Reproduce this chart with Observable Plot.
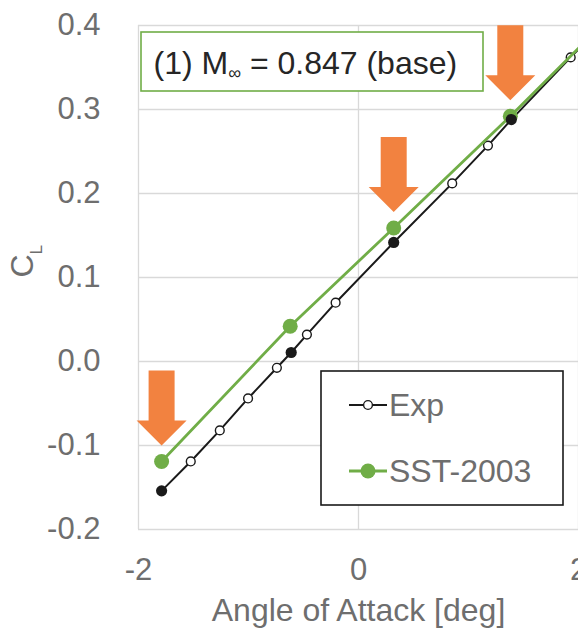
<!DOCTYPE html>
<html><head><meta charset="utf-8">
<script src="https://cdn.jsdelivr.net/npm/d3@7"></script>
<script src="https://cdn.jsdelivr.net/npm/@observablehq/plot@0.6"></script>
<style>
html,body{margin:0;padding:0;background:#fff;}
#chart{width:578px;height:630px;position:relative;overflow:hidden;}
#chart svg{display:block;}
</style></head><body><div id="chart"></div>
<script>
// ---- data ----
const expAlpha = [-1.79, -1.525, -1.261, -1.004, -0.742, -0.612, -0.469, -0.208, 0.32, 0.852, 1.177, 1.389, 1.929, 2.19];
const expCL    = [-0.154, -0.119, -0.082, -0.044, -0.0075, 0.0107, 0.032, 0.070, 0.1417, 0.212, 0.257, 0.288, 0.362, 0.398];
const expMatched = [true, false, false, false, false, true, false, false, true, false, false, true, false, false];
const sstAlpha = [-1.79, -0.621, 0.32, 1.38, 2.4];
const sstCL    = [-0.119, 0.042, 0.159, 0.292, 0.425];
const arrowAlpha = [-1.79, 0.32, 1.38];
const xTicks = [-2, 0, 2];
const yTicks = [-0.2, -0.1, 0, 0.1, 0.2, 0.3, 0.4];
const seriesNames = ["Exp", "SST-2003"];
const annotation = "(1) M∞ = 0.847 (base)";
const xLabel = "Angle of Attack [deg]";
const yLabel = "C";
const yLabelSub = "L";

// ---- styles ----
const FONT = "'Liberation Sans', Arial, sans-serif";
const GREEN = "#70AD47", ORANGE = "#F28240", BLACK = "#1a1a1a", GRAY = "#6e6e6e", GRID = "#d9d9d9";

const exp = expAlpha.map((a, i) => ({a, cl: expCL[i], matched: expMatched[i]}));
const sst = sstAlpha.map((a, i) => ({a, cl: sstCL[i]}));
const arrows = arrowAlpha.map(a => ({a, cl: sstCL[sstAlpha.indexOf(a)]}));

const arrowSymbol = {
  draw(ctx) {
    ctx.moveTo(-13, -91); ctx.lineTo(13, -91); ctx.lineTo(13, -41); ctx.lineTo(25, -41);
    ctx.lineTo(0, -16); ctx.lineTo(-25, -41); ctx.lineTo(-13, -41); ctx.closePath();
  }
};

const plot = Plot.plot({
  width: 578, height: 630,
  marginLeft: 138, marginRight: 0, marginTop: 25, marginBottom: 101,
  style: {fontFamily: FONT, background: "#fff", overflow: "hidden"},
  x: {domain: [-2, 2]},
  y: {domain: [-0.2, 0.4]},
  marks: [
    Plot.gridX(xTicks, {stroke: GRID, strokeOpacity: 1, strokeWidth: 1.3}),
    Plot.gridY(yTicks, {stroke: GRID, strokeOpacity: 1, strokeWidth: 1.3}),
    Plot.axisX(xTicks, {tickSize: 0, tickPadding: 28, fontSize: 31, fill: GRAY, tickFormat: d => String(d), label: null}),
    Plot.axisY(yTicks, {tickSize: 0, tickPadding: 38, fontSize: 31, fill: GRAY, tickFormat: d => d.toFixed(1), label: null}),
    Plot.text([xLabel], {frameAnchor: "bottom", text: d => d, dy: 81, fontSize: 32, fill: GRAY, lineAnchor: "middle"}),
    Plot.text([yLabel], {frameAnchor: "left", text: d => d, rotate: -90, dx: -116, fontSize: 32, fill: GRAY, lineAnchor: "middle"}),
    Plot.dot(arrows, {x: "a", y: "cl", symbol: arrowSymbol, fill: ORANGE, stroke: "none", r: 10}),
    Plot.line(exp, {x: "a", y: "cl", stroke: BLACK, strokeWidth: 2, clip: true}),
    Plot.dot(exp.filter(d => !d.matched), {x: "a", y: "cl", r: 4.4, fill: "white", stroke: BLACK, strokeWidth: 1.4, clip: true}),
    Plot.line(sst, {x: "a", y: "cl", stroke: GREEN, strokeWidth: 2.8, clip: true}),
    Plot.dot(sst, {x: "a", y: "cl", r: 7.5, fill: GREEN, clip: true}),
    Plot.dot(exp.filter(d => d.matched), {x: "a", y: "cl", r: 5.6, fill: BLACK, clip: true}),
    Plot.text([annotation], {frameAnchor: "top-left", text: d => d, textAnchor: "start", dx: 15, dy: 38, fontSize: 32, fill: "#262626", lineAnchor: "middle"})
  ]
});
document.getElementById("chart").appendChild(plot);

const svg = d3.select(plot);
const findText = s => svg.selectAll("text").filter(function () { return this.textContent === s; });

// y label subscript
findText(yLabel).append("tspan").attr("font-size", 17).attr("dy", 9).text(yLabelSub);

// annotation with subscript infinity and green box
const an = findText(annotation);
let anGroup = an.node();
while (anGroup.parentNode !== plot) anGroup = anGroup.parentNode;
const parts = annotation.split("∞");
an.text(parts[0]);
an.append("tspan").attr("font-size", 18).attr("dy", 5).text("∞");
an.append("tspan").attr("dy", -5).text(parts[1]);
svg.insert("rect", () => anGroup)
  .attr("x", 141).attr("y", 32).attr("width", 342).attr("height", 59)
  .attr("fill", "white").attr("stroke", GREEN).attr("stroke-width", 1.6);

// legend
const lg = svg.append("g").attr("aria-label", "legend")
  .style("font-family", FONT).attr("text-anchor", "start");
lg.append("rect").attr("x", 321).attr("y", 371).attr("width", 242).attr("height", 134)
  .attr("fill", "white").attr("stroke", BLACK).attr("stroke-width", 1.6);
const rows = [
  {name: seriesNames[0], y: 405, stroke: BLACK, sw: 2, r: 4.4, fill: "white", cs: BLACK},
  {name: seriesNames[1], y: 471, stroke: GREEN, sw: 2.8, r: 7.5, fill: GREEN, cs: "none"}
];
rows.forEach(r => {
  lg.append("line").attr("x1", 349).attr("x2", 387).attr("y1", r.y).attr("y2", r.y)
    .attr("stroke", r.stroke).attr("stroke-width", r.sw);
  lg.append("circle").attr("cx", 368).attr("cy", r.y).attr("r", r.r)
    .attr("fill", r.fill).attr("stroke", r.cs).attr("stroke-width", 1.4);
  lg.append("text").attr("x", 389).attr("y", r.y + 11).attr("font-size", 32)
    .attr("fill", GRAY).text(r.name);
});
</script></body></html>
